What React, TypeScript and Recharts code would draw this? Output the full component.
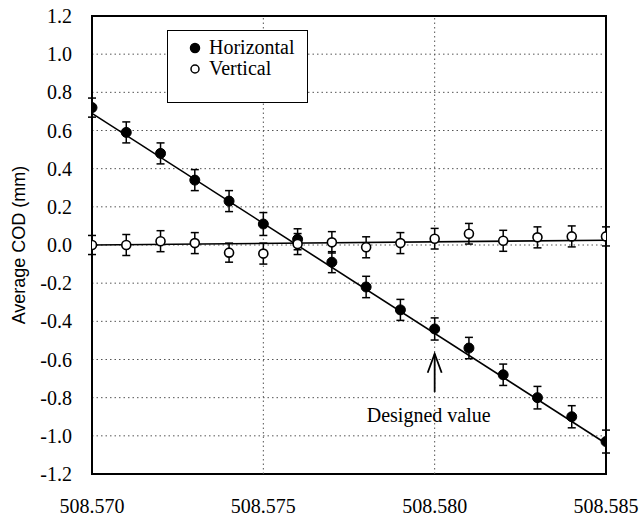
import React from "react";
import {
  ComposedChart,
  XAxis,
  YAxis,
  CartesianGrid,
  Scatter,
  ErrorBar,
  Line,
  ReferenceLine,
  ReferenceArea,
  ReferenceDot,
} from "recharts";

const xValues = [
  508.57, 508.571, 508.572, 508.573, 508.574, 508.575, 508.576, 508.577,
  508.578, 508.579, 508.58, 508.581, 508.582, 508.583, 508.584, 508.585,
];
const horizontalValues = [
  0.72, 0.59, 0.48, 0.34, 0.23, 0.11, 0.03, -0.09, -0.22, -0.34, -0.44, -0.54,
  -0.68, -0.8, -0.9, -1.03,
];
const horizontalErrors = [
  0.05, 0.055, 0.055, 0.055, 0.055, 0.06, 0.055, 0.055, 0.056, 0.055, 0.058,
  0.056, 0.056, 0.059, 0.058, 0.06,
];
const verticalValues = [
  0.0, 0.0, 0.02, 0.01, -0.04, -0.045, 0.005, 0.014, -0.012, 0.01, 0.033, 0.059,
  0.022, 0.04, 0.045, 0.045,
];
const verticalErrors = [
  0.05, 0.055, 0.055, 0.055, 0.05, 0.055, 0.055, 0.056, 0.055, 0.055, 0.054,
  0.054, 0.055, 0.055, 0.055, 0.05,
];
const horizontalFitX = [508.57, 508.585];
const horizontalFitY = [0.69, -1.04];
const verticalFitX = [508.57, 508.585];
const verticalFitY = [0.0, 0.025];

const xTicks = [508.57, 508.575, 508.58, 508.585];
const yTicks = [-1.2, -1.0, -0.8, -0.6, -0.4, -0.2, 0.0, 0.2, 0.4, 0.6, 0.8, 1.0, 1.2];
const verticalGridX = [508.575, 508.58];
const seriesNames = ["Horizontal", "Vertical"];
const yAxisTitle = "Average COD  (mm)";
const annotationText = "Designed value";
const annotationX = 508.58;
const arrowFromY = -0.77;
const arrowToY = -0.57;
const annotationTextY = -0.89;

const horizontalData = xValues.map((x, i) => ({ x, y: horizontalValues[i], err: horizontalErrors[i] }));
const verticalData = xValues.map((x, i) => ({ x, y: verticalValues[i], err: verticalErrors[i] }));
const horizontalFit = horizontalFitX.map((x, i) => ({ x, y: horizontalFitY[i] }));
const verticalFit = verticalFitX.map((x, i) => ({ x, y: verticalFitY[i] }));

const SERIF = "'Liberation Serif'";
const SANS = "'Liberation Sans'";

const FilledDot = (props: any) => (
  <circle cx={props.cx} cy={props.cy} r={5} fill="#000" stroke="#000" strokeWidth={1} />
);
const OpenDot = (props: any) => (
  <circle cx={props.cx} cy={props.cy} r={4.5} fill="#fff" stroke="#000" strokeWidth={1.6} />
);

const renderXTick = (props: any) => (
  <text
    x={props.x}
    y={props.y}
    dy="0.35em"
    textAnchor="middle"
    fontFamily={SERIF}
    fontSize={20}
    fill="#000"
    style={{ fontFamily: SERIF }}
  >
    {Number(props.payload.value).toFixed(3)}
  </text>
);

const renderYTick = (props: any) => (
  <text
    x={props.x}
    y={props.y}
    dy="0.35em"
    textAnchor="end"
    fontFamily={SERIF}
    fontSize={20}
    fill="#000"
    style={{ fontFamily: SERIF }}
  >
    {Number(props.payload.value).toFixed(1)}
  </text>
);

const Arrow = (props: any) => {
  const { x1, y1, x2, y2 } = props;
  const tipY = Math.min(y1, y2);
  const baseY = Math.max(y1, y2);
  return (
    <g stroke="#000" strokeWidth={1.8} fill="none">
      <line x1={x1} y1={baseY} x2={x2} y2={tipY} />
      <polyline points={`${x1 - 7},${tipY + 19} ${x1},${tipY} ${x1 + 7},${tipY + 19}`} />
    </g>
  );
};

const YTitle = (props: any) => {
  const vb = props.viewBox || { x: 0, y: 0, width: 0, height: 0 };
  const cx = vb.x + 19;
  const cy = vb.y + vb.height / 2;
  return (
    <text
      x={cx}
      y={cy}
      transform={`rotate(-90, ${cx}, ${cy})`}
      textAnchor="middle"
      dominantBaseline="central"
      fontFamily={SANS}
      fontSize={18}
      fill="#000"
      style={{ fontFamily: SANS }}
    >
      {yAxisTitle}
    </text>
  );
};

const LegendBox = () => (
  <div
    style={{
      position: "absolute",
      left: 167,
      top: 30,
      border: "1.5px solid #000",
      background: "#fff",
      width: 141,
      height: 73,
      boxSizing: "border-box",
      paddingTop: 6,
      paddingLeft: 21,
      fontFamily: SERIF,
      fontSize: 20,
      lineHeight: "21px",
      color: "#000",
    }}
  >
    {seriesNames.map((name, i) => (
      <div key={name} style={{ display: "flex", alignItems: "center" }}>
        <svg width={14} height={14} style={{ marginRight: 6 }}>
          <circle
            cx={6}
            cy={7}
            r={i === 0 ? 4.5 : 4}
            fill={i === 0 ? "#000" : "#fff"}
            stroke="#000"
            strokeWidth={1.5}
          />
        </svg>
        <span>{name}</span>
      </div>
    ))}
  </div>
);

export default function App() {
  return (
    <div style={{ position: "absolute", left: 0, top: 0, width: 642, height: 519, background: "#fff", fontFamily: SERIF }}>
      <ComposedChart
        width={642}
        height={519}
        margin={{ top: 16, right: 36, left: 0, bottom: 0 }}
      >
        <CartesianGrid vertical={false} stroke="#555" strokeDasharray="1.5 3" />
        <XAxis
          dataKey="x"
          type="number"
          domain={[508.57, 508.585]}
          ticks={xTicks}
          allowDataOverflow
          axisLine={false}
          tickLine={false}
          tickSize={0}
          tickMargin={32}
          height={45}
          tick={renderXTick}
        />
        <YAxis
          dataKey="y"
          type="number"
          domain={[-1.2, 1.2]}
          ticks={yTicks}
          allowDataOverflow
          interval={0}
          axisLine={false}
          tickLine={false}
          tickSize={0}
          tickMargin={20}
          width={92}
          tick={renderYTick}
          label={<YTitle />}
        />
        {verticalGridX.map((x) => (
          <ReferenceLine key={x} x={x} stroke="#555" strokeDasharray="1.5 3" />
        ))}
        <Line
          data={horizontalFit}
          dataKey="y"
          stroke="#000"
          strokeWidth={1.6}
          dot={false}
          activeDot={false}
          isAnimationActive={false}
          legendType="none"
        />
        <Line
          data={verticalFit}
          dataKey="y"
          stroke="#000"
          strokeWidth={1.6}
          dot={false}
          activeDot={false}
          isAnimationActive={false}
          legendType="none"
        />
        <Scatter
          name={seriesNames[0]}
          data={horizontalData}
          shape={<FilledDot />}
          isAnimationActive={false}
        >
          <ErrorBar dataKey="err" direction="y" width={4} stroke="#000" strokeWidth={1.5} />
        </Scatter>
        <Scatter
          name={seriesNames[1]}
          data={verticalData}
          shape={<OpenDot />}
          isAnimationActive={false}
        >
          <ErrorBar dataKey="err" direction="y" width={4} stroke="#000" strokeWidth={1.5} />
        </Scatter>
        <ReferenceLine
          segment={[
            { x: annotationX, y: arrowFromY },
            { x: annotationX, y: arrowToY },
          ]}
          shape={<Arrow />}
        />
        <ReferenceDot
          x={annotationX}
          y={annotationTextY}
          r={1}
          fill="none"
          stroke="none"
          label={{
            value: annotationText,
            position: "center",
            fill: "#000",
            fontSize: 20,
            fontFamily: SERIF,
            dx: -6,
          }}
        />
        <ReferenceArea
          x1={508.57}
          x2={508.585}
          y1={-1.2}
          y2={1.2}
          fill="none"
          stroke="#000"
          strokeWidth={2}
          ifOverflow="visible"
        />
      </ComposedChart>
      <LegendBox />
    </div>
  );
}
